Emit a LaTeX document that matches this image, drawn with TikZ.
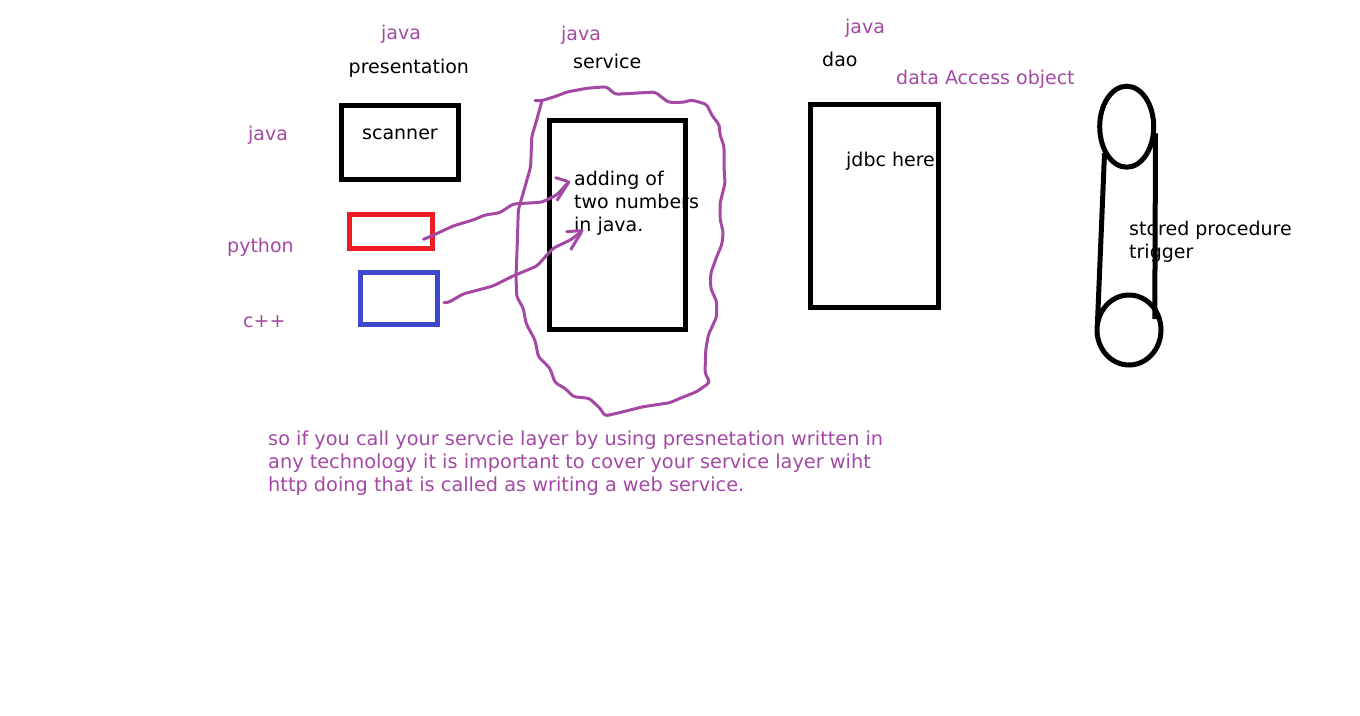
\documentclass[tikz,border=0pt]{standalone}
\usepackage{fontspec}
\setmainfont{DejaVu Sans}
\usetikzlibrary{shapes.geometric}
\definecolor{pen}{HTML}{A349A4}
\definecolor{redpen}{HTML}{ED1C24}
\definecolor{bluepen}{HTML}{3F48CC}
\tikzset{
	tierbox/.style={draw=black,line width=5pt,rectangle},
	blacktext/.style={anchor=west,align=left,text=black,font=\fontsize{19}{23}\selectfont},
	pentext/.style={anchor=west,align=left,text=pen,font=\fontsize{19}{23}\selectfont},
	notetext/.style={pentext,font=\fontsize{19.3}{23}\selectfont},
	handline/.style={draw=pen,line width=3pt,line join=round,line cap=round,rounded corners=3pt},
	tankline/.style={draw=black,line width=5pt}
}
\begin{document}
\begin{tikzpicture}[x=1pt,y=-1pt]
	\tikzstyle{every node}+=[inner sep=0pt]
	\useasboundingbox (0,0) rectangle (1360,715);
	% labels on top
	\node [pentext] (javapres) at (381,34) {java};
	\node [pentext] (javaserv) at (561,35) {java};
	\node [pentext] (javadao) at (845,28.5) {java};
	\node [blacktext] (presentation) at (348.5,68) {presentation};
	\node [blacktext] (service) at (573,61.5) {service};
	\node [blacktext] (dao) at (822,59) {dao};
	\node [pentext] (dataaccess) at (896,79.5) {data Access object};
	% left labels
	\node [pentext] (javaleft) at (248,135) {java};
	\node [pentext] (pythonleft) at (227,247) {python};
	\node [pentext] (cppleft) at (243,322) {c++};
	% boxes
	\node [tierbox,minimum width=117pt,minimum height=74pt] (scannerbox) at (400,142.5) {};
	\node [tierbox,draw=redpen,minimum width=83pt,minimum height=34pt] (redbox) at (390.5,231) {};
	\node [tierbox,draw=bluepen,minimum width=77pt,minimum height=52pt] (bluebox) at (399,298) {};
	\node [tierbox,minimum width=136pt,minimum height=209pt] (servicebox) at (617.7,224.5) {};
	\node [tierbox,minimum width=128pt,minimum height=203pt] (daobox) at (874.5,205.7) {};
	\node [blacktext] (scanner) at (362,134) {scanner};
	\node [blacktext] (adding) at (574,203) {adding of\\two numbers\\in java.};
	\node [blacktext] (jdbc) at (846,161) {jdbc here};
	% loop round the service layer
	\draw [handline] (535,100.7) -- (541.7,100.7) -- (556.7,96) -- (566.7,92) -- (586.7,88.3) -- (606.7,86.7)
		-- (615,94.3) -- (633.3,93.3) -- (655,92) -- (668.3,102.3) -- (683.3,102.3) -- (691.7,100)
		-- (706.7,104.3) -- (711.7,115) -- (719.3,125) -- (720,135) -- (724,146) -- (724,166.7)
		-- (725,183.3) -- (720,203.3) -- (720,218.3) -- (723.3,233.3) -- (721.7,245) -- (716.7,256.7)
		-- (710.7,273.3) -- (710.7,288.3) -- (716.7,301.7) -- (716.7,316.7) -- (708.3,335) -- (705.7,350)
		-- (705,373.3) -- (710,382.3) -- (696.7,391.7) -- (680,398.3) -- (670,402.7) -- (643.3,406.7)
		-- (623.3,411.7) -- (605,416) -- (600,408.3) -- (589.3,398.3) -- (573.3,396.7) -- (565,388.3)
		-- (555,382.7) -- (550,368.3) -- (538.3,356.7) -- (535,340) -- (526,323.3) -- (523.3,308.3)
		-- (516.7,296.7) -- (516,276.7) -- (517.3,243.3) -- (518.3,210) -- (525,186.7) -- (530.7,166.7)
		-- (531.7,136.7) -- (536.7,120) -- (541.7,101.7);
	% hand drawn arrows
	\coordinate (redstart) at (423.3,239.3);
	\coordinate (redtip) at (569,181.7);
	\coordinate (bluestart) at (444,302.7);
	\coordinate (bluetip) at (582.3,230.5);
	\draw [handline] (redstart) -- (430,236.7) -- (453,226) -- (473,220) -- (485,215) -- (500,212.7)
		-- (513,204) -- (540,202.3) -- (543,201.7) -- (556.7,195) -- (redtip);
	\draw [handline] (555.7,177.7) -- (redtip) -- (557.3,200);
	\draw [handline] (bluestart) -- (448,302.7) -- (463,294) -- (493,286) -- (513,276) -- (537,266)
		-- (553,248.3) -- (571.7,239.3) -- (bluetip);
	\draw [handline] (566.7,231.7) -- (bluetip) -- (571,249.3);
	% database
	\node [tankline,ellipse,minimum width=54pt,minimum height=81pt] (toptank) at (1126.7,126.7) {};
	\node [tankline,ellipse,minimum width=64pt,minimum height=70pt] (bottomtank) at (1129,330) {};
	\coordinate (leftup) at (1104.5,153.3);
	\coordinate (leftdown) at (1097.5,322);
	\coordinate (rightup) at (1155.5,133.3);
	\coordinate (rightdown) at (1154.8,319);
	\draw [tankline] (leftup) -- (leftdown);
	\draw [tankline] (rightup) -- (rightdown);
	\node [blacktext] (stored) at (1129,241.5) {stored procedure\\trigger};
	% note under the picture
	\node [notetext] (note) at (268,463.5) {so if you call your servcie layer by using presnetation written in\\any technology it is important to cover your service layer wiht\\http doing that is called as writing a web service.};
\end{tikzpicture}
\end{document}
